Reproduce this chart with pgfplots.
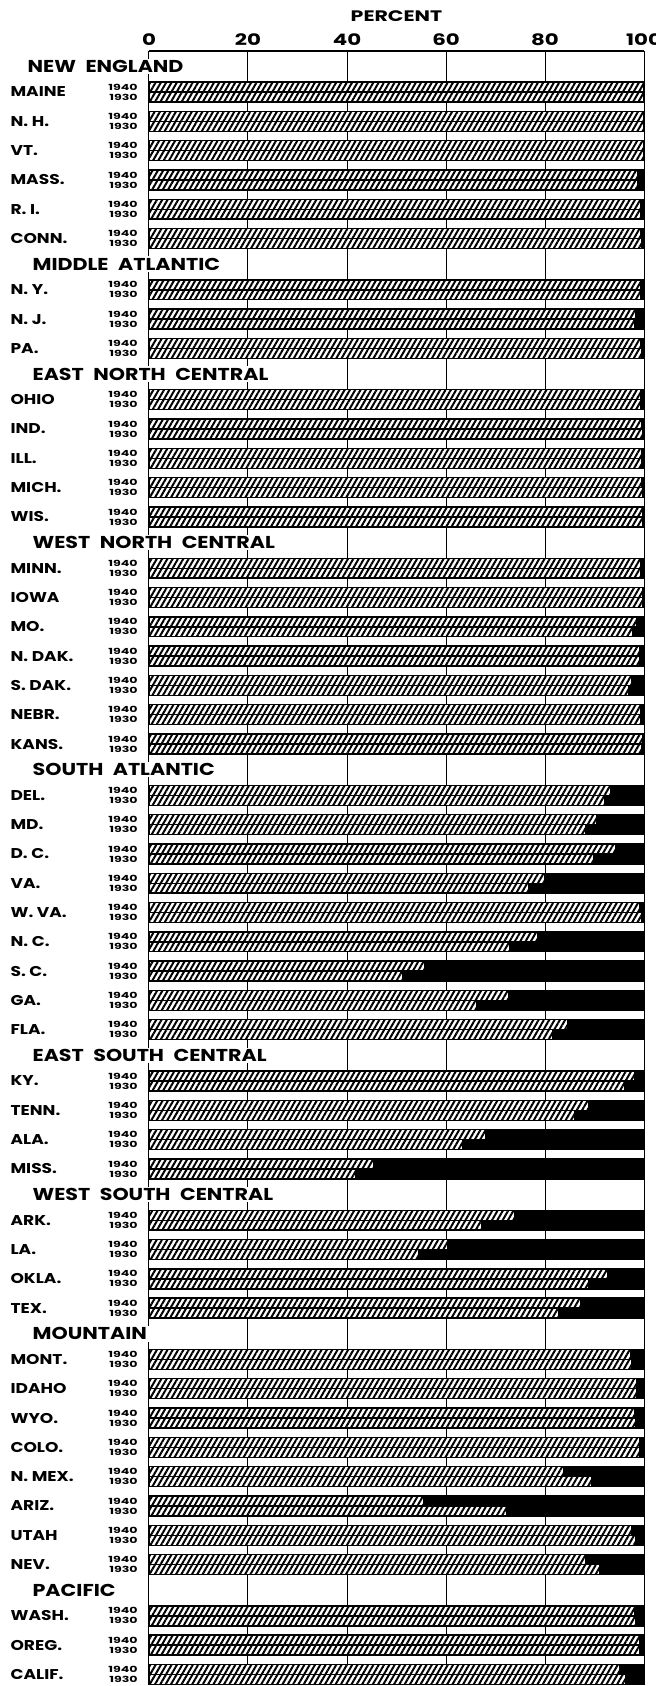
\documentclass[border=0pt]{standalone}
\usepackage{fontspec}
\setmainfont{Poppins}[FakeStretch=1.2]
\newfontfamily\tickfont{Poppins}[FakeStretch=1.35]
\newfontfamily\yearfont{Poppins}[FakeStretch=1.5]
\usepackage{pgfplots}
\usepackage{pgfplotstable}
\pgfplotsset{compat=1.18}
\usetikzlibrary{patterns.meta}

% state names left aligned, years right aligned against the bars
\newcommand\nm[1]{\makebox[63.5pt][l]{#1}}
\newcommand\hsp{\hspace{0.55em}}
\tikzset{hdr/.style={anchor=west, fill=white, inner xsep=1pt, inner ysep=0.8pt,
                font=\bfseries\fontsize{8.6}{10}\selectfont}}

% y = bar centre (1940 above, 1930 below), w = white share, n = the rest
\pgfplotstableread{
st y w n
ME -0.92 99.9 0.1
ME -1.26 99.9 0.1
NH -1.92 99.9 0.1
NH -2.26 99.9 0.1
VT -2.92 99.9 0.1
VT -3.26 99.9 0.1
MA -3.92 98.7 1.3
MA -4.26 98.8 1.2
RI -4.92 99.4 0.6
RI -5.26 99.4 0.6
CT -5.92 99.4 0.6
CT -6.26 99.5 0.5
NY -7.67 99.3 0.7
NY -8.01 99.4 0.6
NJ -8.67 98.3 1.7
NJ -9.01 98.1 1.9
PA -9.67 99.4 0.6
PA -10.01 99.5 0.5
OH -11.42 99.3 0.7
OH -11.76 99.4 0.6
IN -12.42 99.6 0.4
IN -12.76 99.7 0.3
IL -13.42 99.5 0.5
IL -13.76 99.6 0.4
MI -14.42 99.6 0.4
MI -14.76 99.7 0.3
WI -15.42 99.7 0.3
WI -15.76 99.7 0.3
MN -17.17 99.4 0.6
MN -17.51 99.4 0.6
IA -18.17 99.7 0.3
IA -18.51 99.7 0.3
MO -19.17 98.6 1.4
MO -19.51 97.8 2.2
ND -20.17 99.2 0.8
ND -20.51 99.2 0.8
SD -21.17 97.6 2.4
SD -21.51 96.9 3.1
NE -22.17 99.4 0.6
NE -22.51 99.4 0.6
KS -23.17 99.7 0.3
KS -23.51 99.6 0.4
DE -24.92 93.3 6.7
DE -25.26 92.0 8.0
MD -25.92 90.5 9.5
MD -26.26 88.2 11.8
DC -26.92 94.2 5.8
DC -27.26 89.9 10.1
VA -27.92 79.9 20.1
VA -28.26 76.8 23.2
WV -28.92 99.2 0.8
WV -29.26 99.5 0.5
NC -29.92 78.5 21.5
NC -30.26 72.8 27.2
SC -30.92 55.6 44.4
SC -31.26 51.2 48.8
GA -31.92 72.6 27.4
GA -32.26 66.2 33.8
FL -32.92 84.6 15.4
FL -33.26 81.6 18.4
KY -34.67 98.1 1.9
KY -35.01 96.2 3.8
TN -35.67 88.8 11.2
TN -36.01 85.9 14.1
AL -36.67 68.1 31.9
AL -37.01 63.4 36.6
MS -37.67 45.3 54.7
MS -38.01 41.7 58.3
AR -39.42 73.8 26.2
AR -39.76 67.3 32.7
LA -40.42 60.3 39.7
LA -40.76 54.4 45.6
OK -41.42 92.6 7.4
OK -41.76 88.8 11.2
TX -42.42 87.2 12.8
TX -42.76 82.8 17.2
MT -44.17 97.4 2.6
MT -44.51 97.6 2.4
ID -45.17 98.6 1.4
ID -45.51 98.5 1.5
WY -46.17 98.1 1.9
WY -46.51 98.4 1.6
CO -47.17 99.1 0.9
CO -47.51 99.2 0.8
NM -48.17 83.7 16.3
NM -48.51 89.4 10.6
AZ -49.17 55.4 44.6
AZ -49.51 72.2 27.8
UT -50.17 97.5 2.5
UT -50.51 98.3 1.7
NV -51.17 88.3 11.7
NV -51.51 91.1 8.9
WA -52.92 98.2 1.8
WA -53.26 98.4 1.6
OR -53.92 99.1 0.9
OR -54.26 99.2 0.8
CA -54.92 95.0 5.0
CA -55.26 96.3 3.7
}\shares

\begin{document}
\begin{tikzpicture}
\begin{axis}[
    name=main,
    scale only axis,
    width=247.5pt, height=817pt,
    xmin=0, xmax=100,
    ymin=-55.45, ymax=0.31,
    enlargelimits=false,
    clip=false,
    xbar stacked,
    bar width=0.34,
    axis x line*=top,
    axis y line*=left,
    y axis line style={draw=none},
    x axis line style={black, line width=0.7pt},
    xtick={0,20,40,60,80,100},
    xmajorgrids,
    major grid style={black, line width=0.5pt},
    major tick length=0pt,
    /pgf/number format/assume math mode=true,
    xticklabel style={font=\tickfont\bfseries\fontsize{7.9}{9}\selectfont, inner sep=0pt, yshift=2.5pt},
    yticklabel style={font=\bfseries\fontsize{7.1}{8}\selectfont, anchor=east, inner sep=0pt, xshift=-5.5pt},
    ytick={-1.09,-2.09,-3.09,-4.09,-5.09,-6.09,
           -7.84,-8.84,-9.84,
           -11.59,-12.59,-13.59,-14.59,-15.59,
           -17.34,-18.34,-19.34,-20.34,-21.34,-22.34,-23.34,
           -25.09,-26.09,-27.09,-28.09,-29.09,-30.09,-31.09,-32.09,-33.09,
           -34.84,-35.84,-36.84,-37.84,
           -39.59,-40.59,-41.59,-42.59,
           -44.34,-45.34,-46.34,-47.34,-48.34,-49.34,-50.34,-51.34,
           -53.09,-54.09,-55.09},
    yticklabels={\nm{MAINE},\nm{N.\ H.},\nm{VT.},\nm{MASS.},\nm{R.\ I.},\nm{CONN.},
           \nm{N.\ Y.},\nm{N.\ J.},\nm{PA.},
           \nm{OHIO},\nm{IND.},\nm{ILL.},\nm{MICH.},\nm{WIS.},
           \nm{MINN.},\nm{IOWA},\nm{MO.},\nm{N.\ DAK.},\nm{S.\ DAK.},\nm{NEBR.},\nm{KANS.},
           \nm{DEL.},\nm{MD.},\nm{D.\ C.},\nm{VA.},\nm{W.\ VA.},\nm{N.\ C.},\nm{S.\ C.},\nm{GA.},\nm{FLA.},
           \nm{KY.},\nm{TENN.},\nm{ALA.},\nm{MISS.},
           \nm{ARK.},\nm{LA.},\nm{OKLA.},\nm{TEX.},
           \nm{MONT.},\nm{IDAHO},\nm{WYO.},\nm{COLO.},\nm{N.\ MEX.},\nm{ARIZ.},\nm{UTAH},\nm{NEV.},
           \nm{WASH.},\nm{OREG.},\nm{CALIF.}},
    extra y ticks={-0.92,-1.26,-1.92,-2.26,-2.92,-3.26,-3.92,-4.26,-4.92,-5.26,-5.92,-6.26,
           -7.67,-8.01,-8.67,-9.01,-9.67,-10.01,
           -11.42,-11.76,-12.42,-12.76,-13.42,-13.76,-14.42,-14.76,-15.42,-15.76,
           -17.17,-17.51,-18.17,-18.51,-19.17,-19.51,-20.17,-20.51,-21.17,-21.51,-22.17,-22.51,-23.17,-23.51,
           -24.92,-25.26,-25.92,-26.26,-26.92,-27.26,-27.92,-28.26,-28.92,-29.26,-29.92,-30.26,-30.92,-31.26,-31.92,-32.26,-32.92,-33.26,
           -34.67,-35.01,-35.67,-36.01,-36.67,-37.01,-37.67,-38.01,
           -39.42,-39.76,-40.42,-40.76,-41.42,-41.76,-42.42,-42.76,
           -44.17,-44.51,-45.17,-45.51,-46.17,-46.51,-47.17,-47.51,-48.17,-48.51,-49.17,-49.51,-50.17,-50.51,-51.17,-51.51,
           -52.92,-53.26,-53.92,-54.26,-54.92,-55.26},
    extra y tick labels={1940,1930,1940,1930,1940,1930,1940,1930,1940,1930,1940,1930,
           1940,1930,1940,1930,1940,1930,
           1940,1930,1940,1930,1940,1930,1940,1930,1940,1930,
           1940,1930,1940,1930,1940,1930,1940,1930,1940,1930,1940,1930,1940,1930,
           1940,1930,1940,1930,1940,1930,1940,1930,1940,1930,1940,1930,1940,1930,1940,1930,1940,1930,
           1940,1930,1940,1930,1940,1930,1940,1930,
           1940,1930,1940,1930,1940,1930,1940,1930,
           1940,1930,1940,1930,1940,1930,1940,1930,1940,1930,1940,1930,1940,1930,1940,1930,
           1940,1930,1940,1930,1940,1930},
    extra y tick style={yticklabel style={font=\yearfont\bfseries\fontsize{4.2}{4.5}\selectfont}},
]
\addplot[fill=white, draw=black, line width=0.7pt,
    postaction={pattern={Lines[angle=60,distance=2.3pt,line width=1pt]}}]
    table[x=w, y=y]{\shares};
\addplot[fill=black, draw=black, line width=0.7pt]
    table[x=n, y=y]{\shares};

% division headings
\node[hdr] at (axis cs:-25,-0.215) {NEW\hsp ENGLAND};
\node[hdr] at (axis cs:-24,-6.965) {MIDDLE\hsp ATLANTIC};
\node[hdr] at (axis cs:-24,-10.715) {EAST\hsp NORTH\hsp CENTRAL};
\node[hdr] at (axis cs:-24,-16.465) {WEST\hsp NORTH\hsp CENTRAL};
\node[hdr] at (axis cs:-24,-24.215) {SOUTH\hsp ATLANTIC};
\node[hdr] at (axis cs:-24,-33.965) {EAST\hsp SOUTH\hsp CENTRAL};
\node[hdr] at (axis cs:-24,-38.715) {WEST\hsp SOUTH\hsp CENTRAL};
\node[hdr] at (axis cs:-24,-43.465) {MOUNTAIN};
\node[hdr] at (axis cs:-24,-52.215) {PACIFIC};

\node[font=\tickfont\bfseries\fontsize{7.6}{9}\selectfont, yshift=17.5pt]
    at (axis cs:50,0.31) {PERCENT};
\end{axis}
\pgfresetboundingbox
\useasboundingbox ([xshift=-74.5pt,yshift=25.5pt]main.north west)
    rectangle ([xshift=5.5pt,yshift=-0.5pt]main.south east);
\end{tikzpicture}
\end{document}
